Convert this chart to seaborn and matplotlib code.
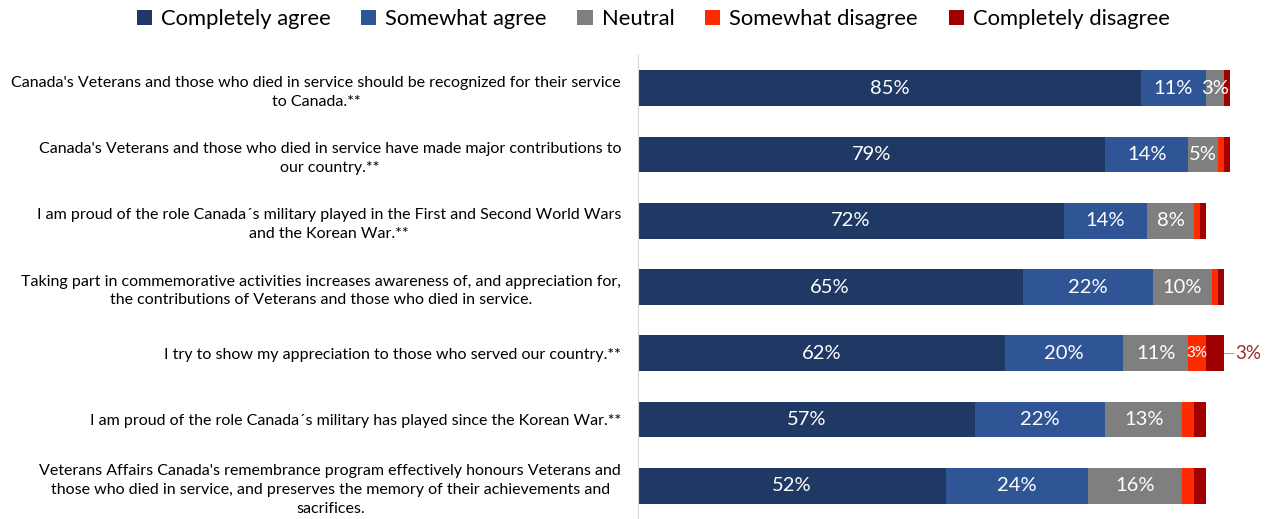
import numpy as np
import pandas as pd
import matplotlib
matplotlib.use("Agg")
import matplotlib.pyplot as plt
from matplotlib.patches import Patch
import seaborn as sns

# statements (top to bottom)
statements = [
    "Canada's Veterans and those who died in service should be recognized for their service\nto Canada.**",
    "Canada's Veterans and those who died in service have made major contributions to\nour country.**",
    "I am proud of the role Canada\u00b4s military played in the First and Second World Wars\nand the Korean War.**",
    "Taking part in commemorative activities increases awareness of, and appreciation for,\nthe contributions of Veterans and those who died in service.",
    "I try to show my appreciation to those who served our country.**",
    "I am proud of the role Canada\u00b4s military has played since the Korean War.**",
    "Veterans Affairs Canada's remembrance program effectively honours Veterans and\nthose who died in service, and preserves the memory of their achievements and\nsacrifices.",
]

responses = ["Completely agree", "Somewhat agree", "Neutral",
             "Somewhat disagree", "Completely disagree"]

completely_agree = [85, 79, 72, 65, 62, 57, 52]
somewhat_agree = [11, 14, 14, 22, 20, 22, 24]
neutral = [3, 5, 8, 10, 11, 13, 16]
somewhat_disagree = [0, 1, 1, 1, 3, 2, 2]
completely_disagree = [1, 1, 1, 1, 3, 2, 2]

colors = ["#203864", "#2F5597", "#7F7F7F", "#FF2B00", "#A00000"]

df = pd.DataFrame({
    "Statement": statements,
    "Completely agree": completely_agree,
    "Somewhat agree": somewhat_agree,
    "Neutral": neutral,
    "Somewhat disagree": somewhat_disagree,
    "Completely disagree": completely_disagree,
})

cum = df[responses].cumsum(axis=1)

plt.rcParams["font.family"] = ["Lato", "DejaVu Sans"]
fig = plt.figure(figsize=(12.73, 5.19), dpi=100)
ax = fig.add_axes([0.501, 0.0, 0.465, 0.894])

# stacked bars: draw cumulative totals from the back
for resp, col in reversed(list(zip(responses, colors))):
    sns.barplot(x=cum[resp], y=df["Statement"], orient="h", color=col,
                width=0.54, ax=ax, saturation=1)

# segment labels
for i in range(len(df)):
    left = 0
    for j, resp in enumerate(responses):
        v = df.loc[i, resp]
        if j < 3 and v >= 3:
            ax.text(left + v / 2, i, f"{v}%", ha="center", va="center",
                    color="white", fontsize=14.5)
        left += v

# small disagree labels for the appreciation statement
row = 4
sd = df.loc[row, "Somewhat disagree"]
base = cum.loc[row, "Neutral"]
ax.text(base + sd / 2, row, f"{sd}%", ha="center", va="center",
        color="white", fontsize=11)
cd = df.loc[row, "Completely disagree"]
end = cum.loc[row, "Completely disagree"]
ax.plot([end, end + 1.5], [row, row], color="#A6A6A6", lw=0.8, clip_on=False)
ax.text(end + 2, row, f"{cd}%", ha="left", va="center",
        color="#A0282D", fontsize=13.5)

ax.set_xlim(0, 100)
ax.set_ylim(6.5, -0.5)
ax.set_xlabel("")
ax.set_ylabel("")
ax.set_xticks([])
ax.set_yticks(range(len(statements)))
ax.set_yticklabels(statements, fontsize=11.5, linespacing=1.45,
                   ha="right", multialignment="center")
ax.tick_params(axis="y", length=0, pad=12)
for s in ["top", "right", "bottom"]:
    ax.spines[s].set_visible(False)
ax.spines["left"].set_color("#D9D9D9")

handles = [Patch(facecolor=c, label=r) for r, c in zip(responses, colors)]
fig.legend(handles=handles, loc="upper center", bbox_to_anchor=(0.513, 1.02),
           ncol=5, frameon=False, fontsize=15.8, handlelength=0.7,
           handleheight=0.7, handletextpad=0.4, columnspacing=1.4)

fig.savefig("out.png", dpi=100)
